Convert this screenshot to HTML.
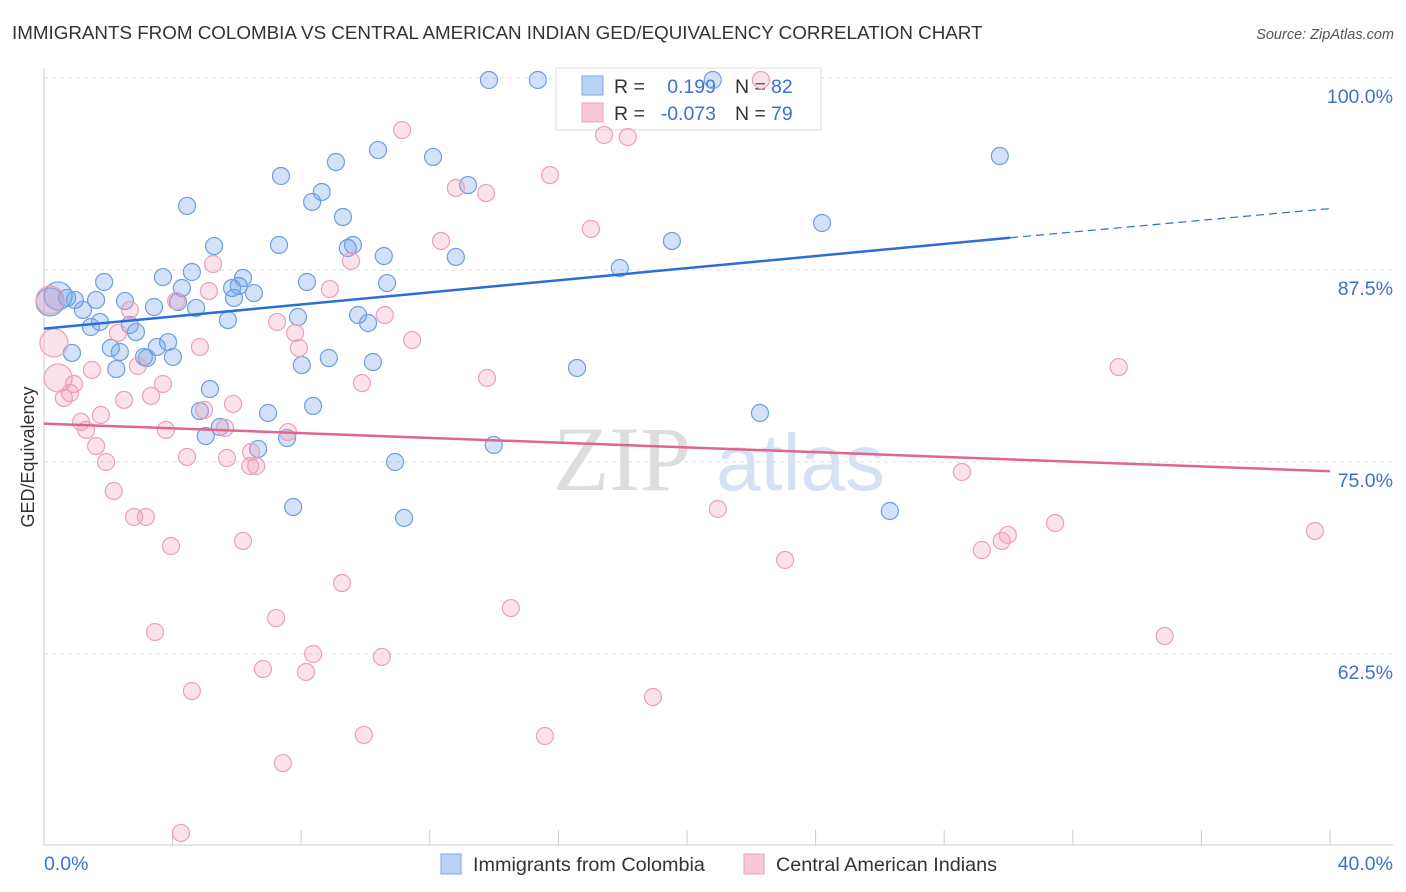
<!DOCTYPE html>
<html><head><meta charset="utf-8"><style>
body{margin:0;background:#fff;font-family:"Liberation Sans",sans-serif}
svg{display:block}
</style></head><body>
<svg id="chart" width="1406" height="892">
<text x="12" y="39" font-size="18.8" fill="#333">IMMIGRANTS FROM COLOMBIA VS CENTRAL AMERICAN INDIAN GED/EQUIVALENCY CORRELATION CHART</text>
<text x="1394" y="39" font-size="14.5" fill="#555" font-style="italic" text-anchor="end">Source: ZipAtlas.com</text>
<text x="0" y="0" transform="translate(34,457) rotate(-90)" font-size="18" fill="#333" text-anchor="middle">GED/Equivalency</text>
<g><text x="553" y="490" font-size="92" fill="#ddd" font-family="Liberation Serif,serif">ZIP</text><text x="716" y="490" font-size="80" fill="#d6e2f3">atlas</text></g>
<g id="grid"></g><g id="axes"></g>
<g>
<rect x="556" y="68" width="265" height="62" fill="#fff" stroke="#ddd"/>
<rect x="582" y="76" width="21" height="19" fill="#b9d2f5" stroke="#7ea6e0"/>
<rect x="582" y="103" width="21" height="19" fill="#f9c8d6" stroke="#eb9fb7"/>
<text x="614" y="93" font-size="19.5" fill="#333">R =</text><text x="716" y="93" font-size="19.5" fill="#3a72d0" text-anchor="end">0.199</text>
<text x="735" y="93" font-size="19.5" fill="#333">N =</text><text x="771" y="93" font-size="19.5" fill="#3a72d0">82</text>
<text x="614" y="120" font-size="19.5" fill="#333">R =</text><text x="716" y="120" font-size="19.5" fill="#3a72d0" text-anchor="end">-0.073</text>
<text x="735" y="120" font-size="19.5" fill="#333">N =</text><text x="771" y="120" font-size="19.5" fill="#3a72d0">79</text>
</g>
<g id="pts"></g><g id="lines"></g>
<g>
<rect x="441" y="854" width="20" height="20" fill="#b9d2f5" stroke="#7ea6e0"/>
<text x="473" y="871" font-size="19.8" fill="#333">Immigrants from Colombia</text>
<rect x="744" y="854" width="20" height="20" fill="#f9c8d6" stroke="#eb9fb7"/>
<text x="776" y="871" font-size="19.8" fill="#333">Central American Indians</text>
</g>
</svg>
<script>
const blueX=[13.84,15.36,20.8,10.39,12.10,9.08,7.37,13.19,8.64,8.34,4.45,9.30,29.73,24.20,19.53,5.29,7.31,9.61,9.45,10.57,12.81,17.91,3.70,4.60,1.87,6.19,6.06,4.29,5.85,6.53,8.18,10.67,1.62,2.52,3.42,4.17,5.91,4.73,0.19,0.44,0.72,0.96,1.21,1.74,1.46,2.67,2.86,5.72,7.90,9.77,10.08,2.08,2.36,0.87,3.51,3.86,3.20,3.11,4.01,2.25,8.02,8.86,10.23,16.58,5.16,4.85,6.97,8.37,22.27,5.47,5.03,6.66,7.56,13.99,10.92,7.75,11.20,26.31];
const blueY=[99.87,99.87,99.87,95.31,94.86,94.53,93.62,93.03,92.58,91.93,91.67,90.95,94.92,90.56,89.39,89.06,89.13,89.13,88.93,88.41,88.35,87.63,87.04,87.37,86.72,86.98,86.46,86.33,86.33,86.00,86.72,86.65,85.55,85.48,85.09,85.42,85.68,85.03,85.42,85.81,85.68,85.55,84.90,84.12,83.79,83.92,83.46,84.24,84.44,84.57,84.05,82.42,82.16,82.10,82.49,82.81,81.77,81.84,81.84,81.05,81.31,81.77,81.51,81.12,79.75,78.32,78.19,78.65,78.19,77.28,76.69,75.85,76.56,76.11,75.00,72.07,71.36,71.81];
const pinkX=[22.30,11.14,17.42,18.16,15.74,12.81,13.75,17.01,12.35,9.55,5.26,0.19,8.89,5.13,4.11,10.60,7.25,2.67,2.30,7.81,7.93,0.31,4.85,11.45,2.92,1.49,33.43,0.44,13.78,3.70,9.89,0.93,0.81,0.62,2.49,3.33,5.88,4.98,1.77,1.15,1.31,3.79,5.63,7.59,1.62,4.45,5.69,6.44,6.41,6.60,1.93,28.55,2.17,2.80,3.17,20.96,31.45,39.53,29.98,29.79,29.17,6.19,3.95,23.05,9.27,14.52,3.45,7.22,34.86,8.37,10.51,8.15,6.81,4.60,18.94,9.95,15.58,7.43,4.26];
const pinkY=[99.87,96.61,96.29,96.16,93.68,92.84,92.51,90.17,89.39,88.09,87.89,85.55,86.26,86.13,85.48,84.57,84.12,84.90,83.40,83.40,82.42,82.75,82.49,82.94,81.25,80.99,81.18,80.47,80.47,80.08,80.14,80.08,79.49,79.17,79.04,79.30,78.78,78.39,78.06,77.61,77.09,77.09,77.22,76.95,76.04,75.33,75.26,75.65,74.74,74.74,75.00,74.35,73.11,71.42,71.42,71.94,71.03,70.51,70.25,69.86,69.27,69.86,69.53,68.62,67.12,65.49,63.93,64.84,63.67,62.50,62.31,61.33,61.52,60.09,59.70,57.23,57.16,55.40,50.85];
const bigBlueIdx=[38,39];
const bigPinkIdx=[11,21,27];
const blueTrend=[83.68,89.6,91.5];
const pinkTrend=[77.5,74.4];
const yTicks=[100,87.5,75,62.5];
const yTickLabels=["100.0%","87.5%","75.0%","62.5%"];
const xEndLabels=["0.0%","40.0%"];

const X0=44,X1=1330,YT=78,PXPER=192/12.5;
const sx=v=>X0+(v/40)*(X1-X0);
const sy=v=>YT+(100-v)*PXPER;
const NS="http://www.w3.org/2000/svg";
function mk(tag,attrs,parent){const e=document.createElementNS(NS,tag);for(const k in attrs)e.setAttribute(k,attrs[k]);document.getElementById(parent).appendChild(e);return e;}

yTicks.forEach((t,i)=>{
  const g=mk('line',{x1:X0,x2:1393,y1:sy(t),y2:sy(t),stroke:'#ddd','stroke-dasharray':'4,4'},'grid');
  
  
  const l=mk('text',{x:1393,y:sy(t)+25,'font-size':19.5,fill:'#3a72d0','text-anchor':'end'},'grid');
  l.textContent=yTickLabels[i];
  
  
});
let a=mk('line',{x1:X0,x2:X0,y1:68,y2:845,stroke:'#ccc'},'axes');


a=mk('line',{x1:X0,x2:1393,y1:845,y2:845,stroke:'#ccc'},'axes');


for(let i=1;i<=10;i++){const t=mk('line',{x1:sx(i*4),x2:sx(i*4),y1:830,y2:845,stroke:'#ccc'},'axes');
  
  }
let xl=mk('text',{x:44,y:870,'font-size':19.5,fill:'#3a72d0'},'axes');xl.textContent=xEndLabels[0];


xl=mk('text',{x:1393,y:870,'font-size':19.5,fill:'#3a72d0','text-anchor':'end'},'axes');xl.textContent=xEndLabels[1];



function pts(xs,ys,big,fill,stroke,name){
  xs.forEach((x,i)=>{const r=big.includes(i)?14:8.5;
    const c=mk('circle',{cx:sx(x),cy:sy(ys[i]),r:r,fill:fill,stroke:stroke,'stroke-width':1.2},'pts');
    
    });
}
pts(blueX,blueY,bigBlueIdx,'rgba(110,160,235,0.3)','#6d9ee0','colombia-point');
pts(pinkX,pinkY,bigPinkIdx,'rgba(245,150,180,0.28)','#eba0b9','indian-point');

let ln=mk('line',{x1:sx(0),y1:sy(blueTrend[0]),x2:sx(30.05),y2:sy(blueTrend[1]),stroke:'#2b6fd6','stroke-width':2.5},'lines');


ln=mk('line',{x1:sx(30.05),y1:sy(blueTrend[1]),x2:sx(40),y2:sy(blueTrend[2]),stroke:'#2b6fd6','stroke-width':1.2,'stroke-dasharray':'8,5'},'lines');


ln=mk('line',{x1:sx(0),y1:sy(pinkTrend[0]),x2:sx(40),y2:sy(pinkTrend[1]),stroke:'#e0658f','stroke-width':2.5},'lines');


</script>
</body></html>
